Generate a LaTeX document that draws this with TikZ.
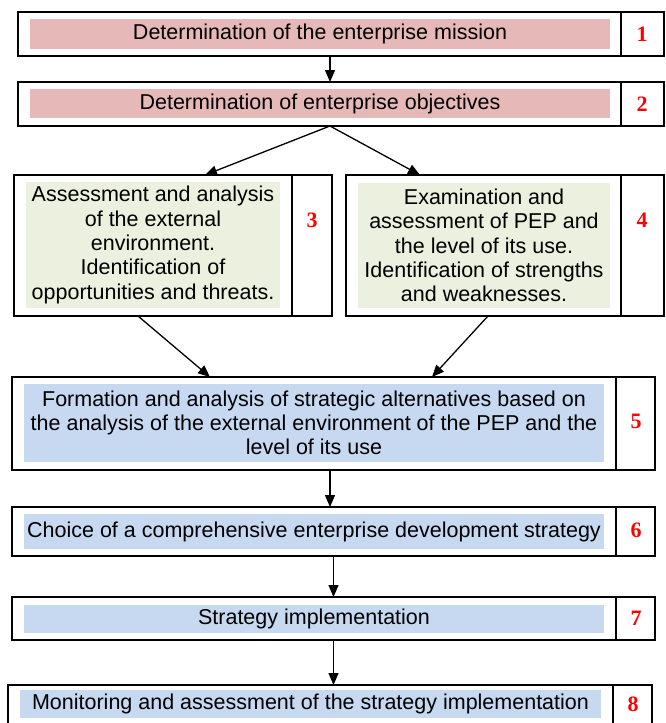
\documentclass[tikz,border=0pt]{standalone}
\usepackage{fontspec}
\setmainfont{Liberation Sans}
\newfontfamily\numfont{Liberation Serif}
\usetikzlibrary{arrows.meta,calc}
\definecolor{pinkfill}{HTML}{E6B9B8}
\definecolor{greenfill}{HTML}{EBF1DE}
\definecolor{bluefill}{HTML}{C6D9F1}
\definecolor{numred}{HTML}{FF0000}
\tikzset{
  outerbox/.style={draw=black, line width=1.2pt, inner sep=0pt, outer sep=0pt, rectangle},
  numcell/.style={draw=black, line width=1.2pt, inner sep=0pt, outer sep=0pt, rectangle},
  fillbox/.style={inner sep=0pt, outer sep=0pt, rectangle, align=center,
     font=\fontsize{21.5}{24.3}\selectfont},
  numlabel/.style={inner sep=0pt, text=numred, font=\numfont\bfseries\fontsize{22}{24}\selectfont},
  arr/.style={line width=1.3pt, -{Stealth[length=12pt,width=10pt,inset=0pt]}}
}
\begin{document}
\begin{tikzpicture}[x=1pt,y=-1pt]
\clip (0,0) rectangle (666,723);
\fill[white] (0,0) rectangle (666,723);

% Box 1
\node[outerbox, minimum width=646pt, minimum height=44pt] (b1) at (341,34) {};
\node[numcell, minimum width=43pt, minimum height=44pt] (c1) at (642.5,34) {};
\node[fillbox, fill=pinkfill, minimum width=580pt, minimum height=30pt] (f1) at (320,33.5) {\raisebox{-1.5pt}{Determination of the enterprise mission}};
\node[numlabel] (n1) at (642,34) {1};

% Box 2
\node[outerbox, minimum width=646pt, minimum height=44pt] (b2) at (341,104) {};
\node[numcell, minimum width=43pt, minimum height=44pt] (c2) at (642.5,104) {};
\node[fillbox, fill=pinkfill, minimum width=580pt, minimum height=29pt] (f2) at (320,103.5) {\raisebox{-1.5pt}{Determination of enterprise objectives}};
\node[numlabel] (n2) at (642,104) {2};

% Box 3
\node[outerbox, minimum width=318pt, minimum height=141pt] (b3) at (173,245.5) {};
\node[numcell, minimum width=40pt, minimum height=141pt] (c3) at (312,245.5) {};
\node[fillbox, fill=greenfill, minimum width=254pt, minimum height=126pt] (f3) at (153,245) {Assessment and analysis\\of the external\\environment.\\Identification of\\opportunities and threats.};
\node[numlabel] (n3) at (312,220) {3};

% Box 4
\node[outerbox, minimum width=318pt, minimum height=141pt] (b4) at (505,245.5) {};
\node[numcell, minimum width=43pt, minimum height=141pt] (c4) at (642.5,245.5) {};
\node[fillbox, fill=greenfill, minimum width=252pt, minimum height=125pt] (f4) at (484,245.5) {Examination and\\assessment of PEP and\\the level of its use.\\Identification of strengths\\and weaknesses.};
\node[numlabel] (n4) at (642,220) {4};

% Box 5
\node[outerbox, minimum width=643pt, minimum height=93pt] (b5) at (333.5,423.5) {};
\node[numcell, minimum width=39pt, minimum height=93pt] (c5) at (635.5,423.5) {};
\node[fillbox, fill=bluefill, minimum width=580pt, minimum height=78pt] (f5) at (314,423) {Formation and analysis of strategic alternatives based on\\the analysis of the external environment of the PEP and the\\level of its use};
\node[numlabel] (n5) at (636,421) {5};

% Box 6
\node[outerbox, minimum width=643pt, minimum height=49pt] (b6) at (333.5,531.5) {};
\node[numcell, minimum width=39pt, minimum height=49pt] (c6) at (635.5,531.5) {};
\node[fillbox, fill=bluefill, minimum width=580pt, minimum height=35pt] (f6) at (314,531.5) {\raisebox{-1pt}{Choice of a comprehensive enterprise development strategy}};
\node[numlabel] (n6) at (636,530) {6};

% Box 7
\node[outerbox, minimum width=643pt, minimum height=43pt] (b7) at (333.5,618.5) {};
\node[numcell, minimum width=39pt, minimum height=43pt] (c7) at (635.5,618.5) {};
\node[fillbox, fill=bluefill, minimum width=580pt, minimum height=28pt] (f7) at (314,619) {\raisebox{-1pt}{Strategy implementation}};
\node[numlabel] (n7) at (636,618) {7};

% Box 8
\node[outerbox, minimum width=644pt, minimum height=50pt] (b8) at (330,710) {};
\node[numcell, minimum width=39pt, minimum height=50pt] (c8) at (632.5,710) {};
\node[fillbox, fill=bluefill, minimum width=581pt, minimum height=28pt] (f8) at (310.5,704) {\raisebox{-1pt}{Monitoring and assessment of the strategy implementation}};
\node[numlabel] (n8) at (633,704) {8};

% Arrows
\draw[arr] ([xshift=-11pt]b1.south) -- ([xshift=-11pt]b2.north);
\draw[arr] ([xshift=-11pt]b2.south) -- ([xshift=32pt]b3.north);
\draw[arr] ([xshift=-11pt]b2.south) -- ([xshift=-85pt]b4.north);
\draw[arr] ([xshift=-35pt]b3.south) -- ([xshift=-123.5pt]b5.north);
\draw[arr] ([xshift=-17pt]b4.south) -- ([xshift=98.5pt]b5.north);
\draw[arr] ([xshift=-3.5pt]b5.south) -- ([xshift=-3.5pt]b6.north);
\draw[arr] (b6.south) -- (b6.south |- b7.north);
\draw[arr] (b7.south) -- (b7.south |- b8.north);
\end{tikzpicture}
\end{document}
